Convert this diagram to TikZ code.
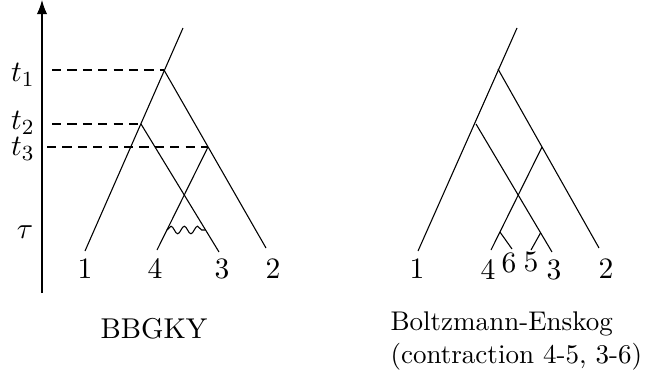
\documentclass[tikz,border=0pt]{standalone}
\usetikzlibrary{arrows.meta,calc,decorations.pathmorphing}
\tikzset{%
    every node/.style={inner sep=0pt},
    num/.style={font=\fontsize{10.8}{13}\selectfont},
    tick/.style={dashed, dash pattern=on 3.4pt off 2.3pt},
    wavy/.style={decorate, decoration={snake, amplitude=1.4pt, segment length=4.9pt}}
}

\begin{document}
\begin{tikzpicture}[x=0.37pt, y=-0.37pt]
  \useasboundingbox (0,0) rectangle (654,383);

  % time axis
  \coordinate (a0) at (42,293);
  \coordinate (a1) at (42,0);
  \draw[-{Latex[length=5.2pt, width=3.8pt]}] (a0) -- (a1);

  \node (t1) [num] at (23,75) {$t_1$};
  \node (t2) [num] at (23,123) {$t_2$};
  \node (t3) [num] at (23,149) {$t_3$};
  \node (tau) [num] at (25,232) {$\tau$};

  % BBGKY tree
  \coordinate (top) at (183,28);
  \coordinate (j1) at (164,70);
  \coordinate (j2) at (141,124);
  \coordinate (j3) at (208,147);
  \coordinate (e1) at (85,251);
  \coordinate (e2) at (266,248);
  \coordinate (e3) at (219,252);
  \coordinate (e4) at (157,250);

  \coordinate (d1) at (52,70);
  \coordinate (d2) at (52,124);
  \coordinate (d3) at (47,147);

  \draw (e1) -- (top); \draw (j1) -- (e2);
  \draw (j2) -- (e3); \draw (j3) -- (e4);

  \draw[tick] (d1) -- (j1);
  \draw[tick] (d2) -- (j2);
  \draw[tick] (d3) -- (j3);

  \coordinate (w1) at ($(j3)!0.806!(e4)$);
  \coordinate (w2) at ($(j2)!0.828!(e3)$);
  \draw[wavy] (w1) -- (w2);

  \node (n1) [num] at (85,269) {$1$};
  \node (n4) [num] at (155,269) {$4$};
  \node (n3) [num] at (222,269) {$3$};
  \node (n2) [num] at (273,269) {$2$};

  \node (bbgky) [font=\fontsize{10.6}{13}\selectfont] at (154,329) {BBGKY};

  % Boltzmann-Enskog tree
  \coordinate (rtop) at (517,28);
  \coordinate (r1) at (498,69);
  \coordinate (r2) at (476,124);
  \coordinate (r3) at (542,147);
  \coordinate (f1) at (418,251);
  \coordinate (f2) at (599,248);
  \coordinate (f3) at (552,252);
  \coordinate (f4) at (491,250);

  \draw (f1) -- (rtop); \draw (r1) -- (f2);
  \draw (r2) -- (f3); \draw (r3) -- (f4);

  \coordinate (s6) at ($(r3)!0.825!(f4)$);
  \coordinate (g6) at (512,249);
  \coordinate (s5) at ($(r2)!0.85!(f3)$);
  \coordinate (g5) at (531,250);
  \draw (s6) -- (g6); \draw (s5) -- (g5);

  \node (m1) [num] at (417,269) {$1$};
  \node (m4) [num] at (488,270) {$4$};
  \node (m6) [num] at (509,263) {$6$};
  \node (m5) [num] at (531,262) {$5$};
  \node (m3) [num] at (554,270) {$3$};
  \node (m2) [num] at (606,269) {$2$};

  \node (be) [anchor=west, align=left] at (390,341)
    {Boltzmann-Enskog\\(contraction 4-5, 3-6)};
\end{tikzpicture}
\end{document}
